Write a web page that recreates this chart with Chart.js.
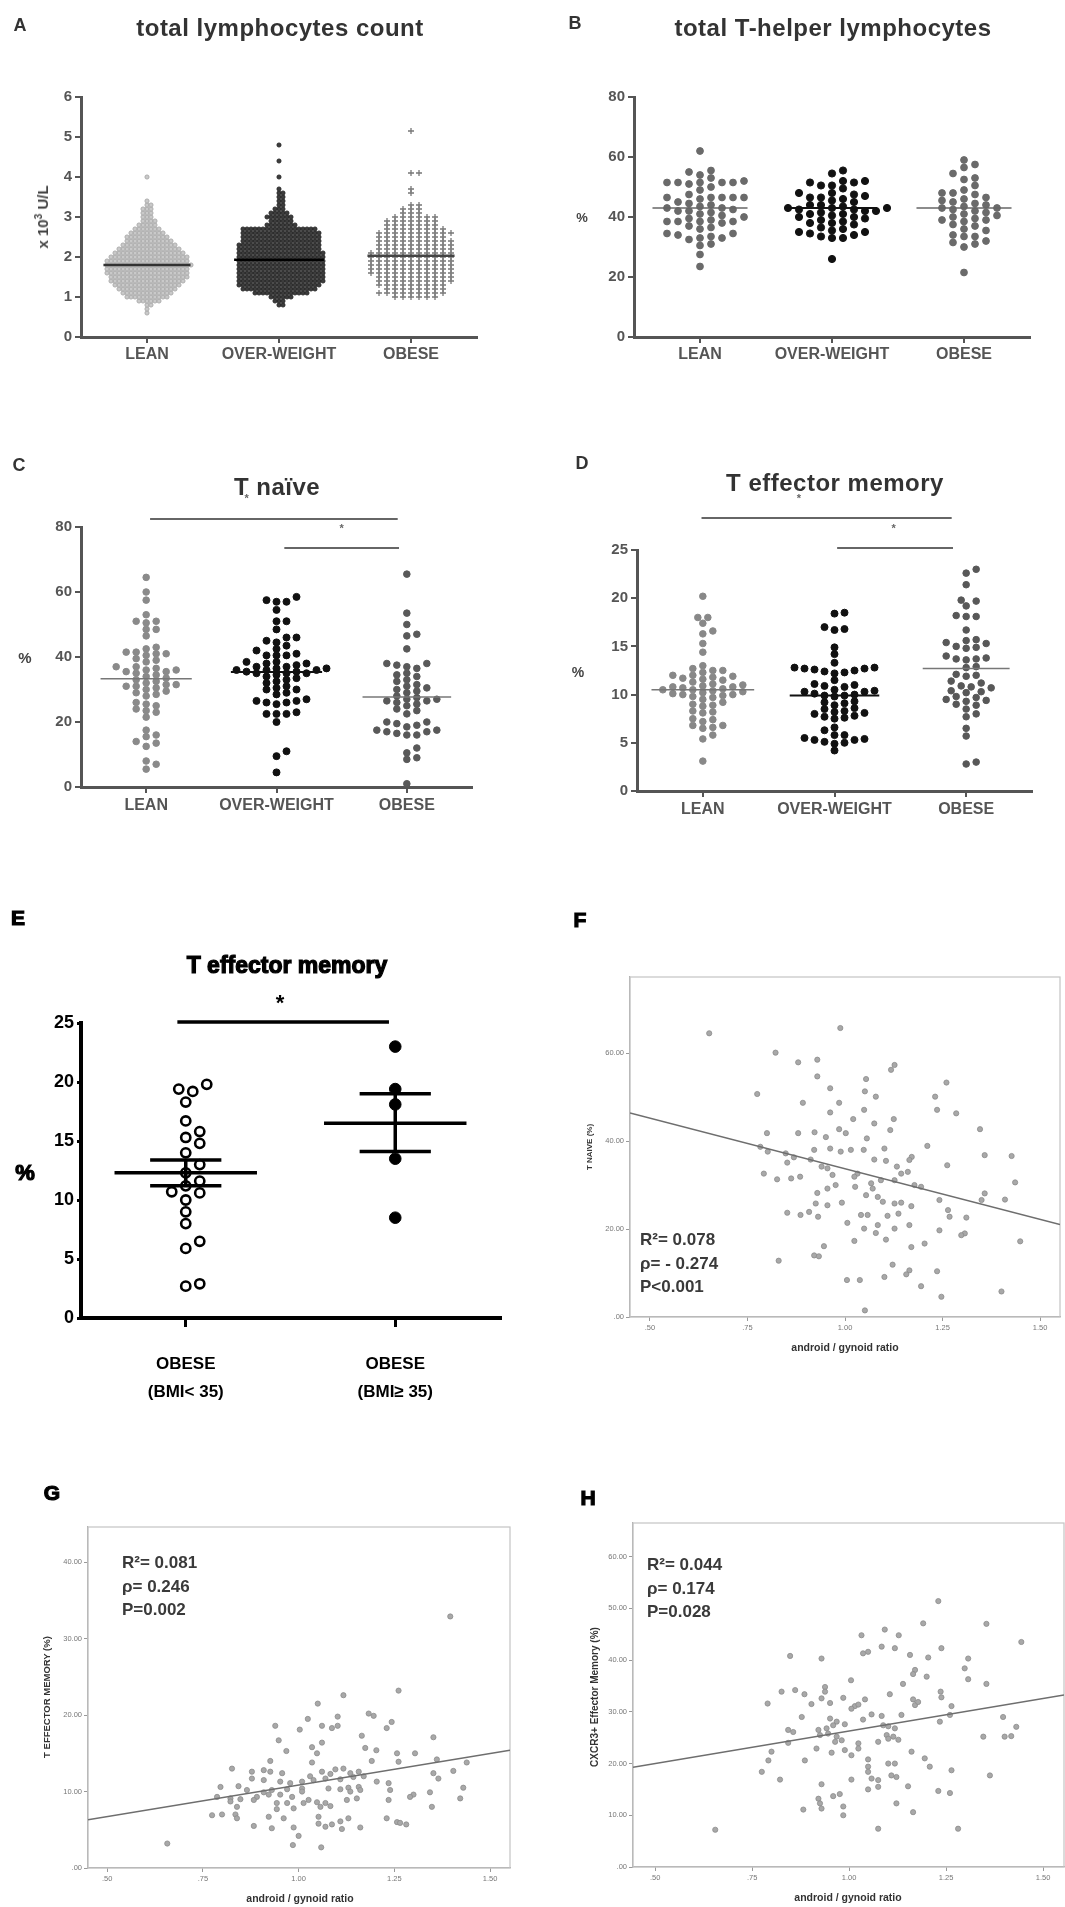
<!DOCTYPE html>
<html><head><meta charset="utf-8">
<script src="https://cdn.jsdelivr.net/npm/chart.js@4.4.1/dist/chart.umd.min.js"></script>
<style>
body{margin:0;background:#fff;width:1065px;height:1907px;position:relative;overflow:hidden;font-family:"Liberation Sans",Arial,sans-serif;}
.p{position:absolute;}
.p canvas{display:block;}
.t{position:absolute;white-space:nowrap;transform:translate(-50%,-50%);line-height:1;}
.title{font-weight:bold;font-size:24px;letter-spacing:0.5px;color:#333;}
.let{font-weight:bold;font-size:18px;color:#333;}
.big{font-weight:900;font-size:21px;color:#000;-webkit-text-stroke:1.2px #000;}
.rot{transform:translate(-50%,-50%) rotate(-90deg);}
.stat{position:absolute;font-weight:bold;font-size:17px;color:#3a3a3a;line-height:23.5px;white-space:nowrap;}
.ax{font-weight:bold;color:#333;}
</style></head><body>

<div class="p" style="left:0;top:0"><canvas id="cA" width="535" height="380"></canvas></div>
<div class="p" style="left:535px;top:0"><canvas id="cB" width="530" height="380"></canvas></div>
<div class="p" style="left:0;top:380px"><canvas id="cC" width="535" height="470"></canvas></div>
<div class="p" style="left:535px;top:380px"><canvas id="cD" width="530" height="470"></canvas></div>
<div class="p" style="left:0;top:900px"><canvas id="cE" width="560" height="520"></canvas></div>
<div class="p" style="left:560px;top:900px"><canvas id="cF" width="505" height="500"></canvas></div>
<div class="p" style="left:0;top:1420px"><canvas id="cG" width="535" height="487"></canvas></div>
<div class="p" style="left:535px;top:1420px"><canvas id="cH" width="530" height="487"></canvas></div>

<!-- panel letters and titles -->
<div class="t let" style="left:20px;top:25px">A</div>
<div class="t title" style="left:280px;top:28px">total lymphocytes count</div>
<div class="t let" style="left:575px;top:23px">B</div>
<div class="t title" style="left:833px;top:28px">total T-helper lymphocytes</div>
<div class="t let" style="left:19px;top:465px">C</div>
<div class="t title" style="left:277px;top:487px">T naïve</div>
<div class="t let" style="left:582px;top:463px">D</div>
<div class="t title" style="left:835px;top:483px">T effector memory</div>
<div class="t big" style="left:18px;top:917px">E</div>
<div class="t big" style="left:287px;top:965px;font-size:23px">T effector memory</div>
<div class="t big" style="left:580px;top:919px">F</div>
<div class="t big" style="left:52px;top:1492px">G</div>
<div class="t big" style="left:588px;top:1497px">H</div>

<!-- axis titles -->
<div class="t rot ax" style="left:42px;top:217px;font-size:15px;color:#444">x 10<sup style="font-size:10px">3</sup> U/L</div>
<div class="t ax" style="left:582px;top:217px;font-size:13px;color:#444">%</div>
<div class="t ax" style="left:25px;top:657px;font-size:15px;color:#444">%</div>
<div class="t ax" style="left:578px;top:672px;font-size:14px;color:#444">%</div>
<div class="t big" style="left:25px;top:1173px;font-size:22px">%</div>
<div class="t rot ax" style="left:590px;top:1147px;font-size:8px">T NAIVE (%)</div>
<div class="t ax" style="left:845px;top:1347px;font-size:10.5px">android / gynoid ratio</div>
<div class="t rot ax" style="left:47px;top:1697px;font-size:9.5px">T EFFECTOR MEMORY (%)</div>
<div class="t ax" style="left:300px;top:1898px;font-size:10.5px">android / gynoid ratio</div>
<div class="t rot ax" style="left:595px;top:1697px;font-size:10px">CXCR3+ Effector Memory (%)</div>
<div class="t ax" style="left:848px;top:1897px;font-size:10.5px">android / gynoid ratio</div>

<!-- correlation statistics -->
<div class="stat" style="left:640px;top:1228px">R²= 0.078<br>ρ= - 0.274<br>P&lt;0.001</div>
<div class="stat" style="left:122px;top:1551px">R²= 0.081<br>ρ= 0.246<br>P=0.002</div>
<div class="stat" style="left:647px;top:1553px">R²= 0.044<br>ρ= 0.174<br>P=0.028</div>

<script>
// ---------------- DATA ----------------
const categories = ['LEAN', 'OVER-WEIGHT', 'OBESE'];
const eCategories = [['OBESE', '(BMI< 35)'], ['OBESE', '(BMI≥ 35)']];

// A: total lymphocytes count (x10^3 U/L) — value rows and number of subjects per row
const aLeanValues = [0.6,0.7,0.8,0.9,1.0,1.1,1.2,1.3,1.4,1.5,1.6,1.7,1.8,1.9,2.0,2.1,2.2,2.3,2.4,2.5,2.6,2.7,2.8,2.9,3.0,3.1,3.2,3.3,3.4,4.0];
const aLeanCounts = [1,1,2,6,11,13,15,17,19,20,21,21,22,21,20,18,16,14,12,11,9,7,5,4,3,3,3,2,1,1];
const aOwValues = [0.8,0.9,1.0,1.1,1.2,1.3,1.4,1.5,1.6,1.7,1.8,1.9,2.0,2.1,2.2,2.3,2.4,2.5,2.6,2.7,2.8,2.9,3.0,3.1,3.2,3.3,3.4,3.5,3.6,3.7,4.0,4.4,4.8];
const aOwCounts = [2,3,6,14,19,21,22,22,22,22,22,22,22,22,21,21,20,20,20,19,8,6,7,5,3,2,2,2,2,1,1,1,1];
const aObeseValues = [1.0,1.1,1.2,1.3,1.4,1.5,1.6,1.7,1.8,1.9,2.0,2.1,2.2,2.3,2.4,2.5,2.6,2.7,2.8,2.9,3.0,3.1,3.2,3.3,3.6,3.7,4.1,5.15];
const aObeseCounts = [6,9,8,9,10,10,11,11,11,11,11,11,10,10,10,9,10,8,7,7,6,3,3,2,1,1,2,1];
const aMedian = [1.8, 1.93, 2.03];

// B: total T-helper lymphocytes (%)
const bLean = [62,55.5,55,54,53,52,51.5,51.5,51.5,51.5,51.5,51,50,49,47.5,46.5,46.5,46.5,46.5,46.5,46,45,44.5,44,43.5,43,43,42.5,42,42,41.5,41,40.5,40,39.5,39,38.5,38.5,38.5,38.5,38,37,36.5,36,34.5,34.5,34,33.5,33,33,32.5,31,30.5,27.5,23.5];
const bOw = [55.5,54.5,52,52,51.5,51.5,50.5,50.5,49.5,48,48,47.5,47,46.5,46.5,46,45.5,45,44,44,43.5,43,43,43,42.5,42.5,42,42,41.5,41,41,40.5,40,40,39.5,39,38.5,38,38,37.5,36.5,36,35.5,35,35,34.5,34,33.5,33,33,26];
const bObese = [59,57.5,56.5,54.5,53,52.5,50.5,49,48,48,47.5,46.5,46,45.5,45,44.5,44,43.5,43,43,42.5,42,41.5,41,40.5,40,39.5,39,39,38.5,37.5,37,36,35.5,34,33.5,33.5,32,31.5,31,30,21.5];
const bMedian = [43, 43, 43];

// C: T naive (%)
const cLean = [64.5,60,57.5,53,51,51,50.5,48.5,48.5,46.5,43,42.5,41.5,41.5,41,41,40.5,39.5,39,38.5,37,37,36.5,36,36,35.5,35.5,35,34.5,34,33.5,33,32.5,32,31.5,31.5,31,31,30.5,30,29.5,29,28.5,28,26,25.5,25,24,23.5,23,21.5,17.5,16,15.5,14,13.5,12.5,8,7,5.5];
const cOw = [58.5,57.5,57,57,54.5,51,51,48.5,46,46,45,44.5,43.5,42.5,42,41,40.5,40.5,40.5,38.5,38.5,38,38,37.5,37,37,36.5,36.5,36,36,36,35.5,35.5,35,35,35,34.5,34,33.5,33,32.5,32,31,30.5,30,30,29,28.5,27,26.5,26.5,26,26,25.5,23,22.5,22.5,22.5,20,11,9.5,4.5];
const cObese = [65.5,53.5,50,47,46.5,42.5,38,38,37.5,37,36.5,35,34.5,34,33,32.5,31.5,31,30.5,30,29.5,29,28,27.5,27,27,26.5,26.5,26,25.5,25,24,23.5,22.5,20,20,19.5,19,18.5,17.5,17.5,17,17,16.5,16,16,12,10.5,9,8.5,1];
const cMedian = [33.3, 35.4, 27.7];

// D: T effector memory (%)
const dLean = [20.2,18,18,17.4,16.6,16.3,15.3,14.4,13,12.7,12.5,12.5,12.3,12,12,11.9,11.8,11.7,11.6,11.5,11.3,11.1,11,10.9,10.8,10.8,10.7,10.6,10.5,10.5,10.4,10.3,10.2,10.1,10,10,9.9,9.8,9.7,9.5,9.2,9,8.9,8.8,8.3,8.2,8.1,7.5,7.4,7.2,6.8,6.8,6.6,6.5,5.8,5.4,3.1];
const dOw = [18.5,18.4,17,16.8,16.7,14.9,14.2,13.3,12.8,12.8,12.7,12.7,12.6,12.5,12.4,12.3,12.2,11.5,11.1,11,10.9,10.8,10.5,10.4,10.3,10.3,10.1,10,9.9,9.9,9.8,9.3,9.2,9.1,8.9,8.6,8.5,8.3,8.2,8.1,8,7.8,7.7,7.6,7.5,6.6,6.3,5.8,5.8,5.5,5.4,5.3,5.3,5.1,5.0,4.9,4.2];
const dObese = [23,22.6,21.4,19.8,19.7,19.2,18.2,18.1,18.1,16.7,15.7,15.6,15.4,15.3,15,14.9,14.8,14,13.8,13.7,13.7,13.6,12.9,12.8,12.1,12,11.9,11.4,11.2,10.9,10.8,10.7,10.4,10.3,10.2,9.8,9.7,9.5,9.4,9.3,9,8.9,8.5,8,7.7,6.5,5.7,3,2.8];
const dMedian = [10.5, 9.9, 12.7];

// E: T effector memory (%) in obese subjects by BMI
const eGroup1 = [19.8,19.4,19.2,18.3,16.7,15.8,15.3,14.8,14.0,13.0,12.3,11.6,11.2,10.6,10.7,10.0,9.0,8.0,6.5,5.9,2.7,2.9];
const eGroup2 = [23.0,19.4,18.1,13.5,8.5];
const eMean = [12.3, 16.5];
const eSemHigh = [13.4, 19.0];
const eSemLow = [11.2, 14.1];

// F: T naive (%) vs android/gynoid ratio
const fPoints = [[0.652,64.5],[0.988,65.7],[0.822,60.1],[0.880,57.9],[0.929,58.5],[1.127,57.3],[1.118,56.2],[0.929,54.7],[1.054,54.1],[0.962,52.0],[1.051,51.3],[1.079,50.1],[0.775,50.7],[1.260,53.3],[1.231,50.1],[0.892,48.7],[0.985,48.7],[1.049,47.1],[1.236,47.1],[1.285,46.3],[0.962,46.5],[1.021,45.0],[1.125,45.0],[1.075,44.0],[0.800,41.8],[0.880,41.8],[0.922,42.0],[0.951,40.9],[0.985,42.7],[1.002,41.8],[1.056,40.6],[1.116,42.5],[1.346,42.7],[1.211,38.9],[0.783,38.7],[0.802,37.6],[0.848,37.2],[0.869,36.3],[0.921,38.0],[0.962,38.3],[0.989,37.6],[1.015,38.0],[1.048,38.0],[1.101,38.3],[1.358,36.8],[1.427,36.6],[1.171,36.4],[1.165,35.7],[0.852,35.1],[0.912,35.8],[0.940,34.2],[0.955,33.8],[1.075,35.8],[1.105,35.5],[1.133,34.2],[1.262,34.5],[1.161,33.0],[1.144,32.6],[0.792,32.6],[0.826,31.3],[0.862,31.5],[0.885,31.9],[0.968,32.3],[1.032,32.6],[1.092,31.1],[1.127,31.1],[1.178,30.0],[1.195,29.6],[1.436,30.6],[0.955,29.2],[0.976,30.0],[1.026,29.6],[1.067,30.4],[1.071,29.2],[1.024,31.9],[0.929,28.2],[1.054,27.7],[1.084,27.3],[1.097,26.2],[1.127,25.8],[1.144,26.0],[1.170,25.2],[1.242,26.6],[1.358,28.1],[1.350,26.6],[1.410,26.7],[0.925,25.8],[0.955,25.4],[0.992,26.0],[0.852,23.7],[0.886,23.2],[0.908,23.9],[0.931,22.8],[1.041,23.2],[1.058,23.2],[1.109,23.0],[1.137,23.5],[1.264,24.3],[1.268,22.8],[1.311,22.6],[1.006,21.4],[1.049,20.1],[1.084,20.9],[1.079,19.1],[1.127,20.1],[1.165,20.9],[1.242,19.7],[1.307,19.0],[1.298,18.6],[1.449,17.2],[1.024,17.3],[1.105,17.6],[0.946,16.1],[1.170,15.9],[1.204,16.7],[0.921,14.0],[0.933,13.8],[0.830,12.8],[1.122,11.9],[1.165,10.6],[1.157,9.7],[1.101,9.1],[1.236,10.4],[1.005,8.4],[1.038,8.4],[1.195,7.0],[1.247,4.6],[1.401,5.8],[1.051,1.5]];
const fFit = [56.7, -23.0]; // intercept, slope

// G: T effector memory (%) vs android/gynoid ratio
const gPoints = [[1.396,32.9],[1.117,22.6],[1.261,23.2],[1.050,21.5],[1.102,19.8],[1.183,20.2],[1.196,19.9],[1.024,19.5],[0.939,18.6],[1.003,18.1],[1.061,18.6],[1.087,18.3],[1.102,18.6],[1.230,18.3],[1.243,19.1],[1.352,17.1],[1.165,17.3],[0.948,16.7],[1.035,15.8],[1.061,16.4],[1.174,15.7],[1.203,15.4],[0.968,15.3],[1.048,15.0],[1.257,15.0],[1.304,15.0],[1.191,14.0],[1.261,13.9],[0.926,14.0],[1.035,13.8],[1.361,14.2],[1.439,13.8],[0.826,13.0],[0.878,12.6],[0.909,12.8],[0.926,12.6],[0.957,12.4],[1.030,12.0],[1.061,12.6],[1.083,12.3],[1.096,12.9],[1.117,13.0],[1.135,12.4],[1.157,12.6],[1.404,12.7],[1.352,12.4],[1.365,11.7],[0.878,11.7],[0.909,11.5],[0.952,11.3],[0.978,11.1],[1.009,11.3],[1.039,11.5],[1.070,11.7],[1.109,11.6],[1.143,11.9],[1.170,12.0],[1.204,11.3],[1.235,11.1],[0.796,10.6],[0.843,10.7],[0.865,10.2],[0.909,9.9],[0.930,10.2],[0.970,10.3],[1.009,10.4],[1.078,10.4],[1.109,10.3],[1.130,10.5],[1.157,10.6],[1.430,10.5],[0.787,9.3],[0.822,9.1],[0.848,9.0],[0.891,9.3],[0.922,9.6],[0.952,9.6],[0.983,9.3],[1.009,10.0],[1.026,8.9],[1.135,10.0],[1.161,10.2],[1.239,10.2],[1.300,9.6],[1.343,9.9],[1.422,9.1],[0.822,8.7],[0.883,8.9],[0.943,8.5],[0.970,8.5],[1.013,8.5],[1.048,8.6],[1.070,8.5],[1.126,8.9],[1.152,9.1],[1.235,8.9],[1.291,9.3],[0.839,8.0],[0.943,7.7],[0.987,7.8],[1.057,8.0],[1.083,8.1],[1.348,8.0],[0.774,6.9],[0.800,7.0],[0.835,7.0],[0.839,6.5],[0.922,6.7],[0.961,6.5],[1.052,6.7],[1.130,6.5],[1.230,6.5],[1.257,6.0],[1.281,5.7],[0.883,5.5],[0.930,5.2],[0.987,5.3],[1.052,5.8],[1.070,5.4],[1.087,5.7],[1.109,6.1],[1.113,5.1],[1.161,5.3],[1.000,4.2],[0.657,3.2],[0.985,3.0],[1.059,2.7],[1.265,5.9]];
const gFit = [2.58, 8.26];

// H: CXCR3+ effector memory (%) vs android/gynoid ratio
const hPoints = [[1.230,51.4],[1.191,47.1],[1.354,47.0],[1.444,43.5],[1.032,44.8],[1.092,45.9],[1.128,44.8],[1.036,41.3],[1.049,41.6],[1.084,42.6],[1.118,42.3],[1.238,42.3],[1.157,41.0],[1.204,40.5],[0.848,40.8],[0.929,40.3],[1.307,40.3],[1.298,38.4],[1.170,38.1],[1.165,37.3],[1.200,36.8],[1.307,36.3],[1.354,35.4],[1.005,36.1],[1.139,35.4],[0.826,33.9],[0.861,34.2],[0.885,33.4],[0.938,34.8],[0.938,33.9],[0.929,32.6],[0.985,32.7],[1.105,33.4],[1.236,33.9],[1.238,32.8],[0.903,31.5],[0.951,31.7],[1.015,31.1],[1.165,32.4],[1.170,31.3],[1.178,31.9],[1.264,31.1],[0.790,31.6],[1.041,32.4],[1.024,31.4],[1.006,30.6],[0.878,29.0],[0.951,28.7],[0.968,28.1],[0.989,27.6],[1.036,28.5],[1.058,29.5],[1.084,29.2],[1.135,29.4],[1.234,28.1],[1.260,29.4],[1.397,29.0],[1.431,27.1],[0.843,26.5],[0.856,26.1],[0.921,26.5],[0.942,26.8],[0.959,27.4],[1.088,27.4],[1.101,27.2],[1.118,26.8],[1.097,25.5],[1.114,25.2],[1.346,25.2],[1.401,25.2],[1.418,25.3],[0.925,25.5],[0.946,25.8],[0.968,25.2],[0.981,24.5],[0.964,24.2],[1.024,23.9],[1.075,24.2],[1.101,24.8],[1.127,24.6],[0.800,22.3],[0.843,24.0],[0.916,22.9],[0.955,22.1],[0.989,22.6],[1.006,21.6],[1.024,22.9],[1.161,22.3],[0.792,20.6],[0.886,20.6],[1.049,20.8],[1.195,21.0],[1.101,20.0],[1.118,20.0],[1.049,19.4],[1.208,19.4],[1.264,18.7],[0.775,18.4],[0.822,16.9],[0.929,16.0],[1.006,16.9],[1.049,18.4],[1.058,17.1],[1.075,16.8],[1.109,17.7],[1.122,17.4],[1.152,15.6],[1.363,17.7],[1.049,15.0],[1.075,15.5],[1.230,14.7],[1.260,14.3],[0.921,13.2],[0.959,13.7],[0.976,14.1],[0.925,12.3],[0.929,11.3],[0.985,11.7],[0.985,10.0],[0.882,11.1],[1.122,12.3],[1.165,10.6],[0.655,7.2],[1.075,7.4],[1.281,7.4]];
const hFit = [13.73, 12.57];

// ---------------- HELPERS ----------------
Chart.defaults.font.family = '"Liberation Sans", Arial, sans-serif';

function expand(values, counts) {
  const out = [];
  values.forEach((v, i) => { for (let k = 0; k < counts[i]; k++) out.push(v); });
  return out;
}
function pointsDs(values, cat, st) {
  return {
    data: values.map(v => ({x: cat, y: v})),
    showLine: false, order: 1,
    pointRadius: st.r, pointBackgroundColor: st.bg, pointBorderColor: st.bd,
    pointBorderWidth: st.bw || 1, pointStyle: st.ps || 'circle'
  };
}
function hLine(x0, x1, y, color, w) {
  return {data: [{x: x0, y: y}, {x: x1, y: y}], showLine: true, pointRadius: 0,
    borderColor: color, borderWidth: w, order: 0};
}
function vLine(x, y0, y1, color, w) {
  return {data: [{x: x, y: y0}, {x: x, y: y1}], showLine: true, pointRadius: 0,
    borderColor: color, borderWidth: w, order: 0};
}
function baseOpts(padTop, padRight, extraPlugins) {
  return {
    responsive: false, animation: false, events: [],
    layout: {autoPadding: false, padding: {left: 0, top: padTop, right: padRight, bottom: 0}},
    plugins: Object.assign({legend: {display: false}, tooltip: {enabled: false}}, extraPlugins || {})
  };
}
function catX(labels, height, font, color, tickLen, lw, padding) {
  return {
    type: 'linear', min: 0.5, max: labels.length + 0.5,
    afterBuildTicks: s => { s.ticks = labels.map((_, i) => ({value: i + 1})); },
    afterFit: s => { s.height = height; },
    ticks: {callback: v => labels[Math.round(v) - 1], font: font, color: color,
      padding: padding, maxRotation: 0, autoSkip: false},
    grid: {drawOnChartArea: false, drawTicks: true, tickLength: tickLen, color: color, lineWidth: lw},
    border: {display: true, color: color, width: lw + 1}
  };
}
function linY(min, max, step, width, font, color, tickLen, lw) {
  return {
    type: 'linear', min: min, max: max,
    afterBuildTicks: s => { const t = []; for (let v = min; v <= max + 1e-9; v += step) t.push({value: v}); s.ticks = t; },
    afterFit: s => { s.width = width; },
    ticks: {font: font, color: color, padding: 3},
    grid: {drawOnChartArea: false, drawTicks: true, tickLength: tickLen, color: color, lineWidth: lw},
    border: {display: true, color: color, width: lw + 1}
  };
}
function spssFmt(v) { return v === 0 ? '.00' : (v < 1 ? v.toFixed(2).replace(/^0/, '') : v.toFixed(2)); }
function spssAxis(min, max, ticks, size, isX) {
  return {
    type: 'linear', min: min, max: max,
    afterBuildTicks: s => { s.ticks = ticks.map(v => ({value: v})); },
    afterFit: s => { if (isX) s.height = size; else s.width = size; },
    ticks: {callback: spssFmt, font: {size: 7.5}, color: '#777', padding: 2, maxRotation: 0, autoSkip: false},
    grid: {drawOnChartArea: false, drawTicks: true, tickLength: 4, color: '#999', lineWidth: 1},
    border: {display: true, color: '#aaa', width: 1.2}
  };
}
function range(a, b, s) { const t = []; for (let v = a; v <= b + 1e-9; v += s) t.push(+v.toFixed(4)); return t; }

// significance bars and stars, drawn in category coordinates
const sigPlugin = {
  id: 'sig',
  afterDraw(chart, args, o) {
    if (!o || !o.bars) return;
    const ctx = chart.ctx, xs = chart.scales.x;
    ctx.save();
    o.bars.forEach(b => {
      ctx.strokeStyle = o.color; ctx.lineWidth = o.width;
      ctx.beginPath(); ctx.moveTo(xs.getPixelForValue(b[0]), b[2]);
      ctx.lineTo(xs.getPixelForValue(b[1]), b[2]); ctx.stroke();
    });
    ctx.fillStyle = o.color; ctx.font = o.starFont; ctx.textAlign = 'center'; ctx.textBaseline = 'middle';
    o.stars.forEach(s => ctx.fillText('*', xs.getPixelForValue(s[0]), s[1]));
    ctx.restore();
  }
};
// full frame for SPSS-style plots
const framePlugin = {
  id: 'frame',
  beforeDatasetsDraw(chart, args, o) {
    if (!o || !o.on) return;
    const a = chart.chartArea, ctx = chart.ctx;
    ctx.save(); ctx.strokeStyle = '#c4c4c4'; ctx.lineWidth = 1.2;
    ctx.strokeRect(a.left, a.top, a.right - a.left, a.bottom - a.top); ctx.restore();
  }
};

// beeswarm placement (horizontal offsets computed from the y values)
function swarm(chart, dsIndex, center, sx, sy) {
  const xs = chart.scales.x, ys = chart.scales.y;
  const ppu = xs.getPixelForValue(center + 1) - xs.getPixelForValue(center);
  const ds = chart.data.datasets[dsIndex];
  const pts = ds.data.slice().sort((a, b) => a.y - b.y);
  const placed = [];
  const step = sx / 2;
  pts.forEach(p => {
    const py = ys.getPixelForValue(p.y);
    let off = 0;
    for (let k = 0; k < 600; k++) {
      const cand = k === 0 ? 0 : (k % 2 ? 1 : -1) * Math.ceil(k / 2) * step;
      let ok = true;
      for (const q of placed) {
        const dx = (cand - q.dx) / sx, dy = (py - q.py) / sy;
        if (dx * dx + dy * dy < 0.999) { ok = false; break; }
      }
      if (ok) { off = cand; break; }
    }
    placed.push({dx: off, py: py});
    p.x = center + off / ppu;
  });
}

const fontTickY = {size: 15, weight: 'bold'};
const fontTickX = {size: 16, weight: 'bold'};
const axisGray = '#555';

// ---------------- PANEL A ----------------
const chartA = new Chart(document.getElementById('cA'), {
  type: 'scatter',
  data: {datasets: [
    pointsDs(expand(aLeanValues, aLeanCounts), 1, {r: 2.1, bg: '#c9c9c9', bd: '#a2a2a2', bw: 0.8}),
    pointsDs(expand(aOwValues, aOwCounts), 2, {r: 2.1, bg: '#3c3c3c', bd: '#1c1c1c', bw: 0.8}),
    pointsDs(expand(aObeseValues, aObeseCounts), 3, {r: 3, bg: '#777', bd: '#777', bw: 1.3, ps: 'cross'}),
    hLine(1 - 0.33, 1 + 0.33, aMedian[0], '#333', 2.5),
    hLine(2 - 0.34, 2 + 0.34, aMedian[1], '#000', 2.5),
    hLine(3 - 0.33, 3 + 0.33, aMedian[2], '#444', 2.5)
  ]},
  options: Object.assign(baseOpts(97, 58), {scales: {
    x: catX(categories, 43, fontTickX, axisGray, 6, 2, 2),
    y: linY(0, 6, 1, 81, fontTickY, axisGray, 6, 2)
  }})
});
swarm(chartA, 0, 1, 4, 3.5);
swarm(chartA, 1, 2, 4, 3.5);
swarm(chartA, 2, 3, 8, 3.5);
chartA.update('none');

// ---------------- PANEL B ----------------
const chartB = new Chart(document.getElementById('cB'), {
  type: 'scatter',
  data: {datasets: [
    pointsDs(bLean, 1, {r: 3.4, bg: '#6a6a6a', bd: '#6a6a6a'}),
    pointsDs(bOw, 2, {r: 3.6, bg: '#111', bd: '#111'}),
    pointsDs(bObese, 3, {r: 3.4, bg: '#6a6a6a', bd: '#6a6a6a'}),
    hLine(1 - 0.36, 1 + 0.36, bMedian[0], '#666', 1.5),
    hLine(2 - 0.34, 2 + 0.34, bMedian[1], '#111', 2),
    hLine(3 - 0.36, 3 + 0.36, bMedian[2], '#666', 1.5)
  ]},
  options: Object.assign(baseOpts(97, 35), {scales: {
    x: catX(categories, 43, fontTickX, axisGray, 6, 2, 2),
    y: linY(0, 80, 20, 99, fontTickY, axisGray, 6, 2)
  }})
});
swarm(chartB, 0, 1, 11, 7);
swarm(chartB, 1, 2, 11, 7);
swarm(chartB, 2, 3, 11, 7);
chartB.update('none');

// ---------------- PANEL C ----------------
const chartC = new Chart(document.getElementById('cC'), {
  type: 'scatter',
  plugins: [sigPlugin],
  data: {datasets: [
    pointsDs(cLean, 1, {r: 3.3, bg: '#8a8a8a', bd: '#8a8a8a'}),
    pointsDs(cOw, 2, {r: 3.5, bg: '#111', bd: '#111'}),
    pointsDs(cObese, 3, {r: 3.3, bg: '#595959', bd: '#595959'}),
    hLine(1 - 0.35, 1 + 0.35, cMedian[0], '#777', 1.5),
    hLine(2 - 0.35, 2 + 0.35, cMedian[1], '#111', 2),
    hLine(3 - 0.34, 3 + 0.34, cMedian[2], '#777', 1.5)
  ]},
  options: Object.assign(baseOpts(147, 63, {sig: {
    color: '#666', width: 2, starFont: 'bold 11px "Liberation Sans"',
    bars: [[1.03, 2.93, 139], [2.06, 2.94, 168]],
    stars: [[1.77, 119], [2.5, 149]]
  }}), {scales: {
    x: catX(categories, 63, fontTickX, axisGray, 6, 2, 3),
    y: linY(0, 80, 20, 81, fontTickY, axisGray, 6, 2)
  }})
});
swarm(chartC, 0, 1, 10, 6.5);
swarm(chartC, 1, 2, 10, 6.5);
swarm(chartC, 2, 3, 10, 6.5);
chartC.update('none');

// ---------------- PANEL D ----------------
const chartD = new Chart(document.getElementById('cD'), {
  type: 'scatter',
  plugins: [sigPlugin],
  data: {datasets: [
    pointsDs(dLean, 1, {r: 3.3, bg: '#888', bd: '#888'}),
    pointsDs(dOw, 2, {r: 3.5, bg: '#111', bd: '#111'}),
    pointsDs(dObese, 3, {r: 3.3, bg: '#585858', bd: '#585858'}),
    hLine(1 - 0.39, 1 + 0.39, dMedian[0], '#777', 1.5),
    hLine(2 - 0.34, 2 + 0.34, dMedian[1], '#111', 2),
    hLine(3 - 0.33, 3 + 0.33, dMedian[2], '#777', 1.5)
  ]},
  options: Object.assign(baseOpts(170, 33, {sig: {
    color: '#666', width: 2, starFont: 'bold 11px "Liberation Sans"',
    bars: [[0.99, 2.89, 138], [2.02, 2.9, 168]],
    stars: [[1.73, 119], [2.45, 149]]
  }}), {scales: {
    x: catX(categories, 59, fontTickX, axisGray, 6, 2, 3),
    y: linY(0, 25, 5, 102, fontTickY, axisGray, 6, 2)
  }})
});
swarm(chartD, 0, 1, 10, 6.5);
swarm(chartD, 1, 2, 10, 6.5);
swarm(chartD, 2, 3, 10, 6.5);
chartD.update('none');

// ---------------- PANEL E ----------------
const chartE = new Chart(document.getElementById('cE'), {
  type: 'scatter',
  plugins: [sigPlugin],
  data: {datasets: [
    pointsDs(eGroup1, 1, {r: 4.6, bg: '#fff', bd: '#000', bw: 2.6}),
    pointsDs(eGroup2, 2, {r: 5.8, bg: '#000', bd: '#000'}),
    hLine(1 - 0.34, 1 + 0.34, eMean[0], '#000', 3.5),
    hLine(1 - 0.17, 1 + 0.17, eSemHigh[0], '#000', 3.5),
    hLine(1 - 0.17, 1 + 0.17, eSemLow[0], '#000', 3.5),
    vLine(1, eSemLow[0], eSemHigh[0], '#000', 3.5),
    hLine(2 - 0.34, 2 + 0.34, eMean[1], '#000', 3.5),
    hLine(2 - 0.17, 2 + 0.17, eSemHigh[1], '#000', 3.5),
    hLine(2 - 0.17, 2 + 0.17, eSemLow[1], '#000', 3.5),
    vLine(2, eSemLow[1], eSemHigh[1], '#000', 3.5)
  ]},
  options: Object.assign(baseOpts(123, 60, {sig: {
    color: '#000', width: 3.5, starFont: '900 22px "Liberation Sans"',
    bars: [[0.96, 1.97, 122]],
    stars: [[1.45, 104]]
  }}), {scales: {
    x: catX(eCategories, 102, {size: 17, weight: 'bold', lineHeight: 1.65}, '#000', 9, 3, 23),
    y: linY(0, 25, 5, 81, {size: 18, weight: 'bold'}, '#000', 4, 3)
  }})
});
swarm(chartE, 0, 1, 14, 11);
chartE.update('none');

// ---------------- PANELS F, G, H ----------------
function corrChart(id, pts, fit, xmin, xmax, ymin, ymax, yticks, yW, padTop, padRight, xH) {
  return new Chart(document.getElementById(id), {
    type: 'scatter',
    plugins: [framePlugin],
    data: {datasets: [
      {data: pts.map(p => ({x: p[0], y: p[1]})), showLine: false, order: 1,
        pointRadius: 2.6, pointBackgroundColor: '#a8a8a8', pointBorderColor: '#8c8c8c', pointBorderWidth: 0.8},
      {data: [{x: xmin, y: fit[0] + fit[1] * xmin}, {x: xmax, y: fit[0] + fit[1] * xmax}],
        showLine: true, pointRadius: 0, borderColor: '#6e6e6e', borderWidth: 1.5, order: 0}
    ]},
    options: Object.assign(baseOpts(padTop, padRight, {frame: {on: true}}), {scales: {
      x: spssAxis(xmin, xmax, [0.5, 0.75, 1, 1.25, 1.5], xH, true),
      y: spssAxis(ymin, ymax, yticks, yW, false)
    }})
  });
}
corrChart('cF', fPoints, fFit, 0.449, 1.551, 0, 77.3, range(0, 60, 20), 70, 77, 5, 83);
corrChart('cG', gPoints, gFit, 0.450, 1.552, 0, 44.6, range(0, 40, 10), 88, 107, 25, 39);
corrChart('cH', hPoints, hFit, 0.443, 1.554, 0, 66.5, range(0, 60, 10), 98, 103, 1, 40);
</script>
</body></html>
